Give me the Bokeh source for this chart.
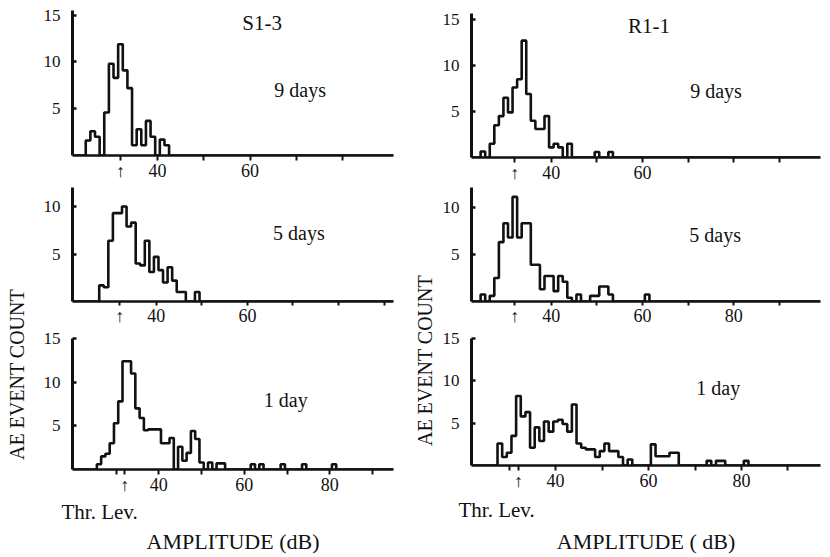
import math
from bokeh.plotting import figure
from bokeh.models import Label, FixedTicker, Range1d, Title
from bokeh.layouts import row, column
from bokeh.embed import file_html
from bokeh.resources import INLINE
from bokeh.core.properties import value

FONT = "Liberation Serif, DejaVu Serif, serif"
INK = "#111111"

# ---------------- data (AE event counts in consecutive 1-dB amplitude bins) -------------
THRESHOLD_DB = 32

# specimen S1-3
s13_9d_start = 25
s13_9d = [1.6, 2.6, 2.0, 0, 4.6, 9.8, 8.3, 11.9, 9.1, 7.2, 1.1, 2.8, 1.1, 3.7, 2.0, 0, 1.7, 1.1]

s13_5d_start = 28
s13_5d = [1.7, 1.5, 6.4, 9.3, 9.3, 10.0, 7.9, 8.3, 4.0, 3.8, 6.4, 3.1, 4.7, 3.3, 2.0, 3.6,
          2.2, 1.0, 1.0, 0, 0, 1.0]

s13_1d_start = 26
s13_1d = [0.6, 1.5, 1.8, 3.0, 5.3, 7.8, 12.4, 12.4, 11.0, 7.0, 5.9, 4.5, 4.6, 4.6, 4.6, 3.0,
          3.0, 3.6, 0, 2.6, 1.0, 1.9, 4.4, 3.5, 0.8, 0, 0.8, 0, 0.7, 0.7,
          0, 0, 0, 0, 0, 0, 0.6, 0, 0.6, 0, 0, 0, 0, 0.6, 0, 0, 0, 0, 0.6,
          0, 0, 0, 0, 0, 0, 0.6]

# specimen R1-1
r11_9d_start = 25
r11_9d = [0.65, 0, 1.5, 3.5, 4.5, 6.5, 4.9, 7.6, 8.5, 12.7, 6.9, 4.0, 3.1, 3.1, 4.5, 1.1,
          1.5, 1.1, 0, 1.5, 0, 0, 0, 0, 0, 0.6, 0, 0, 0.6]

r11_5d_start = 25
r11_5d = [0.75, 0, 0.6, 2.5, 6.3, 8.3, 6.8, 11.1, 6.8, 8.3, 8.3, 3.9, 3.9, 1.3, 2.7, 2.7,
          1.1, 2.7, 2.1, 0.4, 0, 0.75, 0, 0, 0.6, 0.6, 1.6, 1.6, 0.75,
          0, 0, 0, 0, 0, 0, 0, 0.75]

r11_1d_start = 28
r11_1d = [2.6, 1.0, 1.5, 3.5, 8.2, 5.8, 6.3, 2.1, 4.5, 2.9, 5.2, 4.0, 5.2, 5.4, 4.9, 4.0,
          7.2, 2.6, 2.1, 1.9, 1.9, 1.0, 1.7, 2.6, 1.7, 1.7, 1.0, 0, 0.7, 0, 0, 0, 0,
          2.5, 1.1, 1.1, 1.1, 1.5, 1.5, 0, 0, 0, 0, 0, 0, 0.55, 0, 0.55, 0.55,
          0, 0, 0, 0, 0.55]

specimens = ["S1-3", "R1-1"]
ages = ["9 days", "5 days", "1 day"]
x_tick_values = [30, 40, 50, 60, 70, 80, 90]
y_label = "AE EVENT COUNT"
x_label_left = "AMPLITUDE (dB)"
x_label_right = "AMPLITUDE ( dB)"
thr_label = "Thr. Lev."
thr_mark = "\u2191"


def hist_xy(start, counts, x0, x1):
    xs, ys = [x0], [0]
    for i, c in enumerate(counts):
        xs.append(start + i - 0.5)
        ys.append(c)
    xs.append(start + len(counts) - 0.5)
    ys.append(0)
    xs.append(x1)
    ys.append(0)
    return xs, ys


def panel(w, h, xr, ymax, mb, yticks, xlabeled, xticks, start, counts,
          age, age_pos, title=None, title_x=None, xlabel=None, thr_offset=None,
          thr_standoff=0, tick_out=5):
    p = figure(width=w, height=h, x_range=Range1d(*xr), y_range=Range1d(0, ymax),
               toolbar_location=None, output_backend="svg",
               min_border_left=mb[0], min_border_right=mb[1],
               min_border_top=mb[2], min_border_bottom=mb[3])
    p.outline_line_color = None
    p.grid.visible = False
    p.background_fill_color = "white"
    p.border_fill_color = "white"

    ticks = [THRESHOLD_DB] + list(xticks)
    labels = {t: (str(t) if t in xlabeled else "") for t in xticks}
    labels[THRESHOLD_DB] = thr_mark

    xa = p.xaxis[0]
    xa.ticker = FixedTicker(ticks=ticks)
    xa.major_label_overrides = labels
    xa.minor_tick_line_color = None
    xa.axis_line_width = 2.5
    xa.axis_line_color = INK
    xa.major_tick_line_width = 2
    xa.major_tick_line_color = INK
    xa.major_tick_out = tick_out
    xa.major_tick_in = 0
    xa.major_label_standoff = 0
    xa.major_label_text_font = FONT
    xa.major_label_text_font_size = "18px"
    xa.major_label_text_color = INK

    ya = p.yaxis[0]
    ya.ticker = FixedTicker(ticks=yticks)
    ya.minor_tick_line_color = None
    ya.axis_line_width = 3
    ya.axis_line_color = INK
    ya.major_tick_line_width = 2.5
    ya.major_tick_line_color = INK
    ya.major_tick_in = 4
    ya.major_tick_out = 0
    ya.major_label_standoff = 12
    ya.major_label_text_font = FONT
    ya.major_label_text_font_size = "17px"
    ya.major_label_text_color = INK

    xs, ys = hist_xy(start, counts, xr[0], xr[1])
    p.step(xs, ys, mode="after", line_width=2.6, line_color=INK)

    p.add_layout(Label(x=age_pos[0], y=age_pos[1], text=age, text_align="center",
                       text_baseline="middle", text_font=FONT,
                       text_font_size="20px", text_color=INK))
    if title:
        p.add_layout(Label(x=title_x, y=ymax, text=title, text_align="center",
                           text_baseline="top", text_font=FONT,
                           text_font_size="21px", text_color=INK))
    if xlabel:
        p.add_layout(Title(text=thr_label, align="left", offset=thr_offset,
                           standoff=thr_standoff, text_font=FONT, text_font_size="21px",
                           text_font_style="normal", text_color=INK), "below")
        p.add_layout(Title(text=xlabel, align="center", standoff=6,
                           text_font=FONT, text_font_size="22px",
                           text_font_style="normal", text_color=INK), "below")
    return p


tl = panel(378, 187, (21.64, 90.97), 15.5, (40, 17, 10, 32), [5, 10, 15], [40, 60],
           [40, 50, 60, 70, 80], s13_9d_start, s13_9d, ages[0], (70.8, 7.0),
           title=specimens[0], title_x=62.6)
ml = panel(378, 141, (21.64, 92.05), 12.0, (40, 12, 0, 25), [5, 10], [40, 60],
           [40, 50, 60, 70, 80, 90], s13_5d_start, s13_5d, ages[1], (71.3, 7.2),
           tick_out=4)
bl = panel(378, 228, (19.8, 94.9), 15, (36, 0, 10, 84), [5, 10, 15], [40, 60, 80],
           x_tick_values, s13_1d_start, s13_1d, ages[2], (69.7, 8.0),
           xlabel=x_label_left, thr_offset=-11, thr_standoff=0)

tr = panel(393, 187, (22.5, 99.0), 15.65, (35, 0, 13, 30), [5, 10, 15], [40, 60],
           [40, 50, 60, 70, 80, 90], r11_9d_start, r11_9d, ages[0], (76.1, 7.2),
           title=specimens[1], title_x=61.4)
mr = panel(393, 141, (22.5, 99.0), 12.1, (35, 0, 0, 24), [5, 10], [40, 60, 80],
           [40, 50, 60, 70, 80, 90], r11_5d_start, r11_5d, ages[1], (75.9, 7.1),
           tick_out=4)
br = panel(393, 228, (21.9, 97.0), 15, (35, 9, 10, 83), [5, 10, 15], [40, 60, 80],
           x_tick_values, r11_1d_start, r11_1d, ages[2], (75.0, 9.1),
           xlabel=x_label_right, thr_offset=-13, thr_standoff=4)


def side_label(w, h, cx, cy):
    p = figure(width=w, height=h, x_range=Range1d(0, w), y_range=Range1d(0, h),
               toolbar_location=None, output_backend="svg",
               x_axis_location=None, y_axis_location=None, min_border=0)
    p.outline_line_color = None
    p.grid.visible = False
    p.text(x=[cx], y=[cy], text=[y_label], angle=math.pi / 2, text_align="center",
           text_baseline="middle", text_font=value(FONT), text_font_size="20px",
           text_color=INK)
    return p


labL = side_label(32, 556, 16, 182)
labR = side_label(26, 556, 14, 196)

layout = row(labL, column(tl, ml, bl), labR, column(tr, mr, br))

with open("out.html", "w") as f:
    f.write(file_html(layout, INLINE))
